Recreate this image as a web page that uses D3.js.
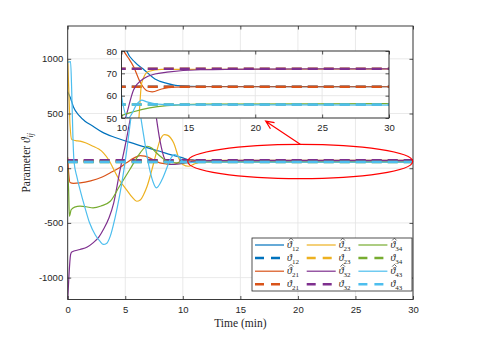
<!DOCTYPE html>
<html>
<head>
<meta charset="utf-8">
<script src="https://cdn.jsdelivr.net/npm/d3@7"></script>
<style>
  body { margin: 0; background: #fff; }
  svg { display: block; }
  .tick text { font-family: "Liberation Sans", Arial, sans-serif; font-size: 9.5px; fill: #262626; }
  .serif { font-family: "Liberation Serif", "DejaVu Serif", serif; fill: #262626; }
</style>
</head>
<body>
<div class="container"></div>
<script>
/********** the Data **********/
let pairNames = ["12", "21", "23", "32", "34", "43"];
let trueValues = [64, 64, 72, 72, 56, 56];

// estimated parameters [time (min), value]
let est12 = [[0, 700], [0.25, 640], [0.5, 560], [1.0, 480], [1.5, 430], [2.2, 384], [3, 330], [4, 285],
  [5.1, 247], [6.5, 200], [8.0, 155], [9, 122], [10, 95], [10.4, 80], [11, 75], [11.7, 71.5],
  [12.5, 67.5], [13.4, 65.5], [14.2, 64.5], [16, 64.1], [30, 64]];
let est21 = [[0, 100], [0.1, -60], [0.2, -130], [0.5, -138], [1.07, -134], [2, -115], [3, -80],
  [3.7, -42], [4.5, 5], [5.1, 49], [5.7, 90], [6.3, 116], [6.7, 110], [7.1, 95], [8.0, 49], [8.6, 38],
  [9.2, 34], [9.6, 50], [10.0, 82], [10.2, 79.7], [10.5, 77], [10.9, 73], [11.4, 66], [11.9, 62.2],
  [12.3, 61.7], [13, 63], [14, 63.8], [16, 64], [30, 64]];
let est23 = [[0, 990], [0.1, 700], [0.2, 400], [0.35, 262], [0.7, 252], [1.07, 247], [1.6, 230],
  [2.2, 201], [2.7, 175], [3.1, 141], [3.6, 70], [4, -12], [4.5, -110], [5.1, -195], [5.6, -265],
  [6, -302], [6.3, -290], [6.6, -240], [6.9, -165], [7.3, -20], [7.7, 141], [8.0, 250], [8.4, 308],
  [8.7, 300], [9.2, 232], [9.7, 80], [10.0, 34], [10.5, 18], [11.0, 40], [11.3, 50], [11.5, 65.5],
  [12, 70.8], [13, 71.8], [16, 71.8], [30, 72]];
let est32 = [[0, -1200], [0.1, -1000], [0.25, -790], [0.35, -765], [1.07, -743], [1.7, -720],
  [2.2, -682], [2.7, -630], [3.1, -560], [3.6, -450], [4, -316], [4.5, -42], [5.1, 262], [5.7, 598],
  [6.4, 932], [6.8, 1020], [7.1, 900], [7.6, 536], [8, 262], [8.45, 80], [9, 34], [9.5, 38], [10, 45],
  [10.3, 50], [10.9, 62.5], [11.7, 67.8], [12.5, 69.7], [13.4, 70.5], [15.9, 71.6], [20, 71.9], [30, 72]];
let est34 = [[0, 0], [0.08, -200], [0.15, -440], [0.3, -380], [0.6, -355], [1.07, -347], [1.6, -352],
  [2.2, -362], [2.9, -345], [3.7, -302], [4.5, -165], [5.4, -12], [6.3, 141], [6.9, 201], [7.3, 185],
  [7.7, 141], [8.2, 95], [8.6, 64], [9.5, 49], [10, 51], [10.9, 52.8], [12.1, 54.5], [13.4, 55.5],
  [16, 56.2], [30, 56.4]];
let est43 = [[0, 970], [0.25, 975], [0.35, 700], [0.45, 300], [0.55, 60], [0.8, -80], [1.07, -195],
  [1.5, -360], [1.9, -499], [2.4, -610], [2.8, -667], [3.1, -697], [3.4, -685], [3.7, -621],
  [4.1, -460], [4.5, -256], [5.1, 141], [5.55, 506], [5.9, 760], [6.0, 770], [6.3, 506], [6.6, 300],
  [7, 49], [7.4, -120], [7.7, -179], [8.2, -103], [8.6, 0], [8.9, 80], [9.3, 125], [9.7, 100],
  [10.0, 60], [10.5, 50], [11.2, 56.6], [11.5, 58], [11.9, 57.2], [12.7, 56.2], [14, 55.9], [30, 55.8]];
let estimates = [est12, est21, est23, est32, est34, est43];

let xTicks = [0, 5, 10, 15, 20, 25, 30];
let yTicks = [-1000, -500, 0, 500, 1000];
let insetXTicks = [10, 15, 20, 25, 30];
let insetYTicks = [50, 60, 70, 80];

// MATLAB default colour order
let lineColors = ["#0072BD", "#D95319", "#EDB120", "#7E2F8E", "#77AC30", "#4DBEEE"];


/********** drawChart function **********/
function drawChart() {
  let width = 504, height = 339;

  let svg = d3.select(".container").append("svg")
    .attr("width", width)
    .attr("height", height);

  /***** scales *****/
  let x = d3.scaleLinear().domain([0, 30]).range([67.7, 413]);
  let y = d3.scaleLinear().domain([-1200, 1300]).range([299.5, 26]);

  let xi = d3.scaleLinear().domain([10, 30]).range([121.5, 389]);
  let yi = d3.scaleLinear().domain([50, 80]).range([118, 51]);

  let defs = svg.append("defs");
  defs.append("clipPath").attr("id", "mainClip").append("rect")
    .attr("x", x(0)).attr("y", y(1300)).attr("width", x(30) - x(0)).attr("height", y(-1200) - y(1300));
  defs.append("clipPath").attr("id", "insetClip").append("rect")
    .attr("x", xi(10)).attr("y", yi(80)).attr("width", xi(30) - xi(10)).attr("height", yi(50) - yi(80));

  let plainNum = d => String(d);  // "-1000", not "−1,000"

  // draws grid + lines + box + ticks for one set of axes
  function drawAxes(g, sx, sy, xt, yt, clipId) {
    let x0 = sx.range()[0], x1 = sx.range()[1];
    let y0 = sy.range()[1], y1 = sy.range()[0];

    g.append("rect")
      .attr("x", x0).attr("y", y0).attr("width", x1 - x0).attr("height", y1 - y0)
      .attr("fill", "#fff");

    // grid
    g.append("g").selectAll("line").data(xt).join("line")
      .attr("x1", d => sx(d)).attr("x2", d => sx(d))
      .attr("y1", y0).attr("y2", y1)
      .attr("stroke", "#e3e3e3").attr("stroke-width", 0.8);
    g.append("g").selectAll("line").data(yt).join("line")
      .attr("x1", x0).attr("x2", x1)
      .attr("y1", d => sy(d)).attr("y2", d => sy(d))
      .attr("stroke", "#e3e3e3").attr("stroke-width", 0.8);

    let line = d3.line()
      .x(d => sx(d[0]))
      .y(d => sy(d[1]))
      .curve(d3.curveMonotoneX);

    let plot = g.append("g").attr("clip-path", `url(#${clipId})`);
    estimates.forEach((est, i) => {
      plot.append("path")
        .attr("d", line(est))
        .attr("fill", "none")
        .attr("stroke", lineColors[i])
        .attr("stroke-width", 1.2);
      plot.append("path")
        .attr("d", line([[0, trueValues[i]], [30, trueValues[i]]]))
        .attr("fill", "none")
        .attr("stroke", lineColors[i])
        .attr("stroke-width", 2.5)
        .attr("stroke-dasharray", "10,6");
    });

    // axes with inward ticks on all four sides
    let tick = -3.5;
    let bottom = g.append("g").attr("transform", `translate(0, ${y1})`)
      .call(d3.axisBottom(sx).tickValues(xt).tickSizeInner(tick).tickSizeOuter(0).tickPadding(6.5).tickFormat(plainNum));
    let left = g.append("g").attr("transform", `translate(${x0}, 0)`)
      .call(d3.axisLeft(sy).tickValues(yt).tickSizeInner(tick).tickSizeOuter(0).tickPadding(4.5).tickFormat(plainNum));
    let top = g.append("g").attr("transform", `translate(0, ${y0})`)
      .call(d3.axisTop(sx).tickValues(xt).tickSizeInner(tick).tickSizeOuter(0).tickFormat(""));
    let right = g.append("g").attr("transform", `translate(${x1}, 0)`)
      .call(d3.axisRight(sy).tickValues(yt).tickSizeInner(tick).tickSizeOuter(0).tickFormat(""));
    [bottom, left, top, right].forEach(a => {
      a.select(".domain").remove();
      a.selectAll(".tick line").attr("stroke", "#262626").attr("stroke-width", 0.8);
    });

    g.append("rect")
      .attr("x", x0).attr("y", y0).attr("width", x1 - x0).attr("height", y1 - y0)
      .attr("fill", "none").attr("stroke", "#262626").attr("stroke-width", 0.9);
  }

  /***** main axes *****/
  let mainG = svg.append("g").attr("class", "main-axes");
  drawAxes(mainG, x, y, xTicks, yTicks, "mainClip");

  // red ellipse around the converged region
  svg.append("ellipse")
    .attr("cx", x(20.2)).attr("cy", y(61))
    .attr("rx", x(9.77) - x(0)).attr("ry", y(0) - y(157))
    .attr("fill", "none").attr("stroke", "#ff0000").attr("stroke-width", 1.2);

  /***** inset axes *****/
  let insetG = svg.append("g").attr("class", "inset-axes");
  drawAxes(insetG, xi, yi, insetXTicks, insetYTicks, "insetClip");

  // arrow from ellipse to inset
  let ax0 = x(20.2), ay0 = y(218), ax1 = x(17.2), ay1 = y(430);
  let ang = Math.atan2(ay0 - ay1, ax0 - ax1);
  let headLen = 9, spread = 0.42;
  svg.append("path")
    .attr("d", `M${ax0},${ay0}L${ax1},${ay1}` +
      `M${ax1 + headLen * Math.cos(ang - spread)},${ay1 + headLen * Math.sin(ang - spread)}` +
      `L${ax1},${ay1}` +
      `L${ax1 + headLen * Math.cos(ang + spread)},${ay1 + headLen * Math.sin(ang + spread)}`)
    .attr("fill", "none").attr("stroke", "#ff0000").attr("stroke-width", 1.2);

  /***** axis labels *****/
  svg.append("text").attr("class", "serif")
    .attr("x", (x(0) + x(30)) / 2).attr("y", 326.5)
    .attr("text-anchor", "middle")
    .style("font-size", "11.5px")
    .text("Time (min)");

  let yl = svg.append("text").attr("class", "serif")
    .attr("transform", `translate(30, ${(y(-1200) + y(1300)) / 2}) rotate(-90)`)
    .attr("text-anchor", "middle")
    .style("font-size", "11.5px");
  yl.append("tspan").text("Parameter ");
  yl.append("tspan").style("font-style", "italic").text("ϑ");
  yl.append("tspan").style("font-style", "italic").style("font-size", "8px").attr("dy", 3).text("ij");

  /***** legend *****/
  let lg = svg.append("g").attr("class", "legend");
  lg.append("rect")
    .attr("x", 252).attr("y", 238).attr("width", 160).attr("height", 53)
    .attr("fill", "#fff").attr("stroke", "#262626").attr("stroke-width", 0.8);

  let entries = [];
  pairNames.forEach((name, i) => {
    entries.push({i: i, hat: true});
    entries.push({i: i, hat: false});
  });
  entries.forEach((e, k) => {
    let col = Math.floor(k / 4), row = k % 4;
    let lx = 255 + col * 51.7, ly = 245 + row * 13.1;
    lg.append("line")
      .attr("x1", lx).attr("x2", lx + 29)
      .attr("y1", ly).attr("y2", ly)
      .attr("stroke", lineColors[e.i])
      .attr("stroke-width", e.hat ? 1.2 : 2.5)
      .attr("stroke-dasharray", e.hat ? null : "9,7");
    let t = lg.append("text").attr("class", "serif")
      .attr("x", lx + 32).attr("y", ly + 3)
      .style("font-size", "10px");
    t.append("tspan").style("font-style", "italic").text("ϑ");
    t.append("tspan").style("font-size", "7px").attr("dy", 2.5).text(pairNames[e.i]);
    if (e.hat) {
      // small circumflex above the theta, drawn as a path
      let cx = lx + 36;
      lg.append("path")
        .attr("d", `M${cx - 2.2},${ly - 4.6}L${cx},${ly - 6.8}L${cx + 2.2},${ly - 4.6}`)
        .attr("fill", "none").attr("stroke", "#262626").attr("stroke-width", 0.7);
    }
  });
}

drawChart();
</script>
</body>
</html>
